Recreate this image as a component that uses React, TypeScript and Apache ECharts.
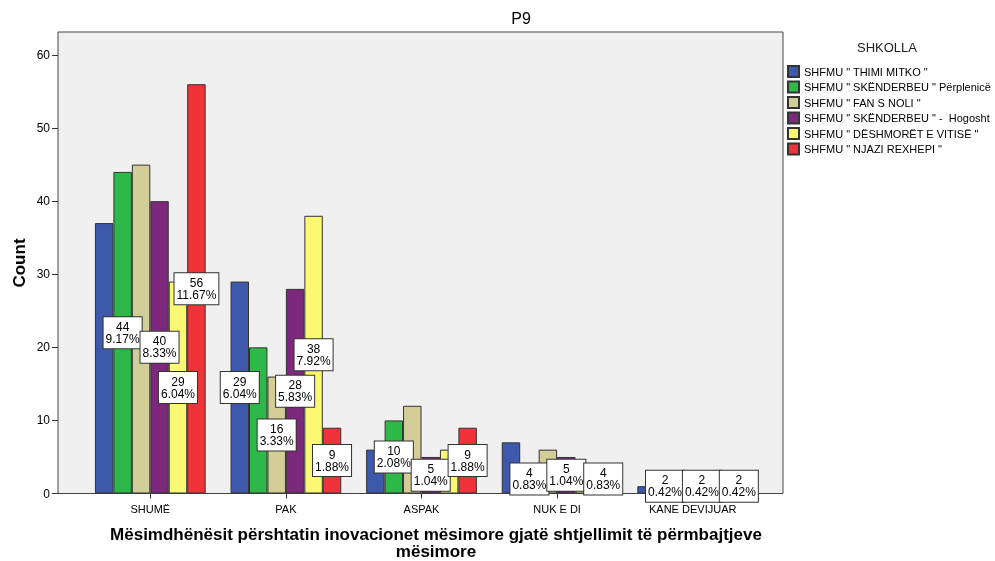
import React, { useEffect, useRef } from "react";
import * as echarts from "echarts";

const categories = ["SHUMË", "PAK", "ASPAK", "NUK E DI", "KANE DEVIJUAR"];
const schoolNames = [
  'SHFMU " THIMI MITKO "',
  'SHFMU " SKËNDERBEU " Përplenicë',
  'SHFMU " FAN S NOLI "',
  'SHFMU " SKËNDERBEU " -  Hogosht',
  'SHFMU " DËSHMORËT E VITISË "',
  'SHFMU " NJAZI REXHEPI "',
];
const thimiMitko = [37, 29, 6, 7, 1];
const skenderbeuPerplenice = [44, 20, 10, 4, 2];
const fanSNoli = [45, 16, 12, 6, 1];
const skenderbeuHogosht = [40, 28, 5, 5, 2];
const deshmoretEVitise = [29, 38, 6, 4, 3];
const njaziRexhepi = [56, 9, 9, 4, 2];
const seriesValues = [thimiMitko, skenderbeuPerplenice, fanSNoli, skenderbeuHogosht, deshmoretEVitise, njaziRexhepi];
const shownLabels = [
  [false, true, false, false, false],
  [true, false, true, true, true],
  [false, true, false, false, false],
  [true, true, true, true, true],
  [true, true, false, false, false],
  [true, true, true, true, true],
];
const colors = ["#3e58ac", "#2eb848", "#d3ce97", "#7c287d", "#fbf873", "#ef3338"];
const yMin = 0;
const yMax = 60;
const yInterval = 10;

const FONT = "'Liberation Sans', Arial, sans-serif";

export default function App() {
  const ref = useRef<HTMLDivElement>(null);
  useEffect(() => {
    if (!ref.current) return;
    const chart = echarts.init(ref.current, undefined, { renderer: "svg" });
    const total = seriesValues.reduce((s, arr) => s + arr.reduce((a, b) => a + b, 0), 0);
    const series = seriesValues.map((vals, si) => ({
      type: "bar",
      name: schoolNames[si],
      barWidth: 18.45,
      barGap: "0%",
      itemStyle: { color: colors[si], borderColor: "#333", borderWidth: 1 },
      data: vals.map((v, ci) => ({
        value: v,
        label: {
          show: shownLabels[si][ci],
          position: "inside",
          formatter: () => `${v}\n${((v / total) * 100).toFixed(2)}%`,
          backgroundColor: "#fff",
          borderColor: "#333",
          borderWidth: 1,
          padding: [4, 2, 3, 2],
          color: "#000",
          fontSize: 12,
          lineHeight: 12,
          fontFamily: FONT,
          align: "center",
        },
      })),
    }));
    chart.setOption({
      animation: false,
      textStyle: { fontFamily: FONT },
      grid: { left: 82.5, right: 234.5, top: 55, bottom: 67.5, containLabel: false },
      graphic: [
        {
          type: "rect",
          z: 0,
          shape: { x: 58, y: 32, width: 725, height: 461.5 },
          style: { fill: "#f0f0f0", stroke: "#444", lineWidth: 1 },
        },
        {
          type: "text",
          x: 521,
          y: 18,
          style: { text: "P9", font: `16px ${FONT}`, fill: "#000", align: "center", verticalAlign: "middle", textAlign: "center", textVerticalAlign: "middle" },
        },
        {
          type: "text",
          x: 19,
          y: 263,
          rotation: Math.PI / 2,
          style: { text: "Count", font: `bold 17px ${FONT}`, fill: "#000", align: "center", verticalAlign: "middle", textAlign: "center", textVerticalAlign: "middle" },
        },
        {
          type: "text",
          x: 436,
          y: 543,
          style: {
            text: "Mësimdhënësit përshtatin inovacionet mësimore gjatë shtjellimit të përmbajtjeve\nmësimore",
            font: `bold 17px ${FONT}`,
            lineHeight: 17,
            fill: "#000",
            align: "center",
            verticalAlign: "middle",
            textAlign: "center",
            textVerticalAlign: "middle",
          },
        },
        {
          type: "text",
          x: 887,
          y: 47,
          style: { text: "SHKOLLA", font: `13px ${FONT}`, fill: "#222", align: "center", verticalAlign: "middle", textAlign: "center", textVerticalAlign: "middle" },
        },
      ],
      legend: {
        orient: "vertical",
        left: 787,
        top: 65,
        padding: 0,
        itemWidth: 11,
        itemHeight: 11,
        itemGap: 2.5,
        icon: "rect",
        textStyle: { fontSize: 11, color: "#000", fontFamily: FONT },
        data: schoolNames,
      },
      xAxis: {
        type: "category",
        data: categories,
        axisLine: { show: false },
        axisTick: { show: true, alignWithLabel: true, length: 5, lineStyle: { color: "#333" } },
        axisLabel: { margin: 10, fontSize: 11, color: "#000", fontFamily: FONT },
      },
      yAxis: {
        type: "value",
        min: yMin,
        max: yMax,
        interval: yInterval,
        offset: 24.5,
        axisLine: { show: false },
        axisTick: { show: true, length: 6, lineStyle: { color: "#333" } },
        axisLabel: { margin: 8, fontSize: 12, color: "#000", fontFamily: FONT },
        splitLine: { show: false },
      },
      series,
    });
    return () => chart.dispose();
  }, []);
  return <div ref={ref} style={{ position: "fixed", left: 0, top: 0, width: 995, height: 561 }} />;
}
